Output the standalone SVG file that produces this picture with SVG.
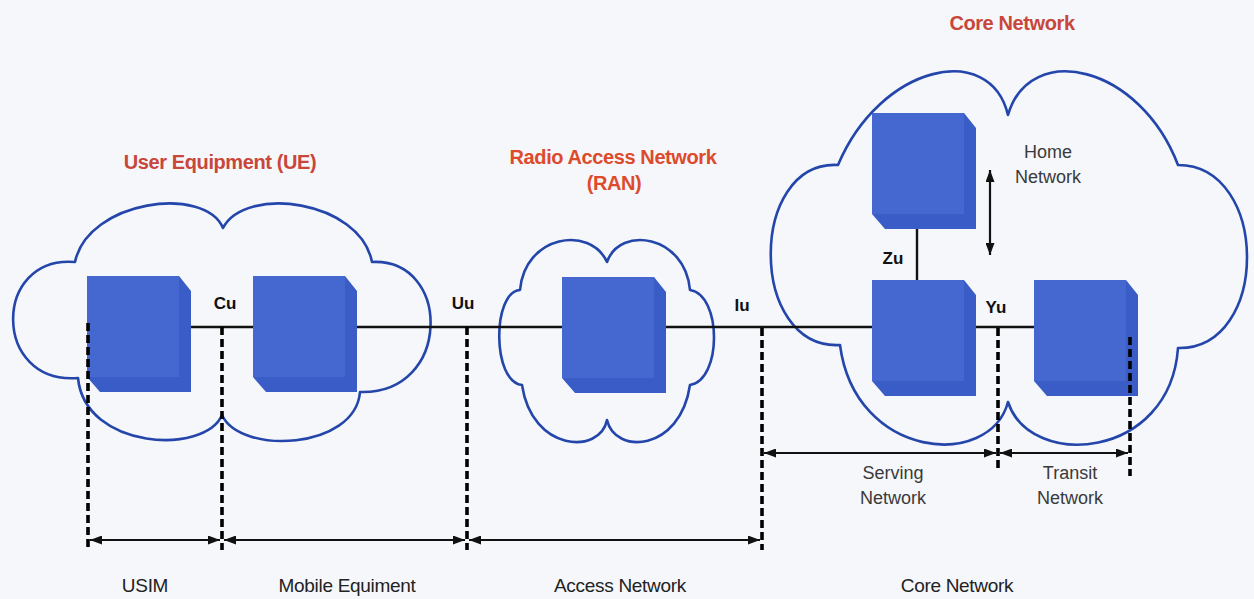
<svg xmlns="http://www.w3.org/2000/svg" xmlns:xlink="http://www.w3.org/1999/xlink" width="1254" height="599" viewBox="0 0 1254 599">
  <style>
    .cloud { fill: none; stroke: #2446ab; stroke-width: 2.6; stroke-linejoin: round; }
    .title { font-family: "Liberation Sans", Arial, sans-serif; font-weight: bold; font-size: 20px; letter-spacing: -0.4px; fill: #c9463a; text-anchor: middle; }
    .iface { font-family: "Liberation Sans", Arial, sans-serif; font-weight: bold; font-size: 17px; fill: #111; text-anchor: middle; }
    .note { font-family: "Liberation Sans", Arial, sans-serif; font-size: 18px; fill: #3a3a3a; text-anchor: middle; }
    .domain { font-family: "Liberation Sans", Arial, sans-serif; font-size: 19px; fill: #222; text-anchor: middle; letter-spacing: -0.3px; }
    .link { stroke: #111; stroke-width: 2.4; fill: none; }
    .bound { stroke: #000; stroke-width: 3.6; stroke-dasharray: 8 4; fill: none; }
    .span { stroke: #111; stroke-width: 2.2; fill: none; marker-start: url(#head); marker-end: url(#head); }
  </style>
  <defs>
    <marker id="head" viewBox="0 0 12 9" refX="12" refY="4.5" markerWidth="12" markerHeight="9" markerUnits="userSpaceOnUse" orient="auto-start-reverse">
      <path d="M0,0 L12,4.5 L0,9 z" fill="#111"/>
    </marker>
    <!-- shaded block used for every network element -->
    <g id="cube">
      <path d="M0,0 H92 L104,15 V116 H13 L0,101 Z" fill="#3a5cc6"/>
      <rect x="0" y="0" width="92" height="101" fill="#4468d0"/>
    </g>
  </defs>

  <rect x="0" y="0" width="1254" height="599" fill="#f5f7fa"/>

  <!-- domain clouds -->
  <g id="ue-cloud">
    <path class="cloud" d="M75,262 C88,200 205,185 223,228 C245,185 360,200 372,262 C452,258 452,395 360,392 C355,450 240,455 222,415 C205,455 85,450 78,378 C-8,385 -8,255 75,262 Z"/>
    <text class="title" x="220" y="169">User Equipment (UE)</text>
  </g>
  <g id="ran-cloud">
    <path class="cloud" d="M520,290 C525,235 590,225 607,262 C620,225 685,235 690,290 C722,295 722,380 690,385 C680,452 615,455 607,420 C600,455 532,452 522,385 C492,382 492,292 520,290 Z"/>
    <text class="title" x="613" y="164" fill="#dd4a2c" style="fill:#dd4a2c">Radio Access Network</text>
    <text class="title" x="614" y="190" style="fill:#dd4a2c">(RAN)</text>
  </g>
  <g id="core-cloud">
    <path class="cloud" d="M838,165 C880,65 990,40 1008,115 C1030,40 1140,65 1178,165 C1270,165 1270,350 1178,348 C1170,460 1030,470 1008,402 C990,470 855,460 840,345 C748,350 748,160 838,165 Z"/>
    <text class="title" x="1012" y="30">Core Network</text>
  </g>

  <!-- physical links between elements -->
  <g id="links">
    <line class="link" x1="190" y1="327" x2="1036" y2="327"/>
    <line class="link" x1="917" y1="226" x2="917" y2="282"/>
    <line x1="990" y1="170" x2="990" y2="255" stroke="#111" stroke-width="2.2" marker-start="url(#head)" marker-end="url(#head)"/>
  </g>

  <!-- network elements -->
  <g id="usim"><use href="#cube" xlink:href="#cube" x="87" y="276"/></g>
  <g id="mobile-equipment"><use href="#cube" xlink:href="#cube" x="253" y="276"/></g>
  <g id="access-node"><use href="#cube" xlink:href="#cube" x="562" y="277"/></g>
  <g id="home-node"><use href="#cube" xlink:href="#cube" x="872" y="113"/></g>
  <g id="serving-node"><use href="#cube" xlink:href="#cube" x="872" y="280"/></g>
  <g id="transit-node"><use href="#cube" xlink:href="#cube" x="1034" y="280"/></g>

  <!-- reference point labels -->
  <g id="interfaces">
    <text class="iface" x="225" y="309">Cu</text>
    <text class="iface" x="463" y="309">Uu</text>
    <text class="iface" x="742" y="311">Iu</text>
    <text class="iface" x="893" y="264">Zu</text>
    <text class="iface" x="996" y="313">Yu</text>
    <text class="note" x="1048" y="158">Home</text>
    <text class="note" x="1048" y="183">Network</text>
  </g>

  <!-- domain boundaries and extents -->
  <g id="extents">
    <line class="bound" x1="88" y1="323" x2="88" y2="548"/>
    <line class="bound" x1="222" y1="327" x2="222" y2="550"/>
    <line class="bound" x1="467" y1="327" x2="467" y2="550"/>
    <line class="bound" x1="762" y1="328" x2="762" y2="550"/>
    <line class="bound" x1="998" y1="328" x2="998" y2="470"/>
    <line class="bound" x1="1130" y1="337" x2="1130" y2="476"/>
    <line class="span" x1="90" y1="540" x2="220" y2="540"/>
    <line class="span" x1="224" y1="540" x2="465" y2="540"/>
    <line class="span" x1="469" y1="540" x2="760" y2="540"/>
    <line class="span" x1="764" y1="453" x2="996" y2="453"/>
    <line class="span" x1="1000" y1="453" x2="1128" y2="453"/>
    <text class="note" x="893" y="479">Serving</text>
    <text class="note" x="893" y="504">Network</text>
    <text class="note" x="1070" y="479">Transit</text>
    <text class="note" x="1070" y="504">Network</text>
    <text class="domain" x="145" y="592">USIM</text>
    <text class="domain" x="347" y="592">Mobile Equiment</text>
    <text class="domain" x="620" y="592">Access Network</text>
    <text class="domain" x="957" y="592">Core Network</text>
  </g>
</svg>
